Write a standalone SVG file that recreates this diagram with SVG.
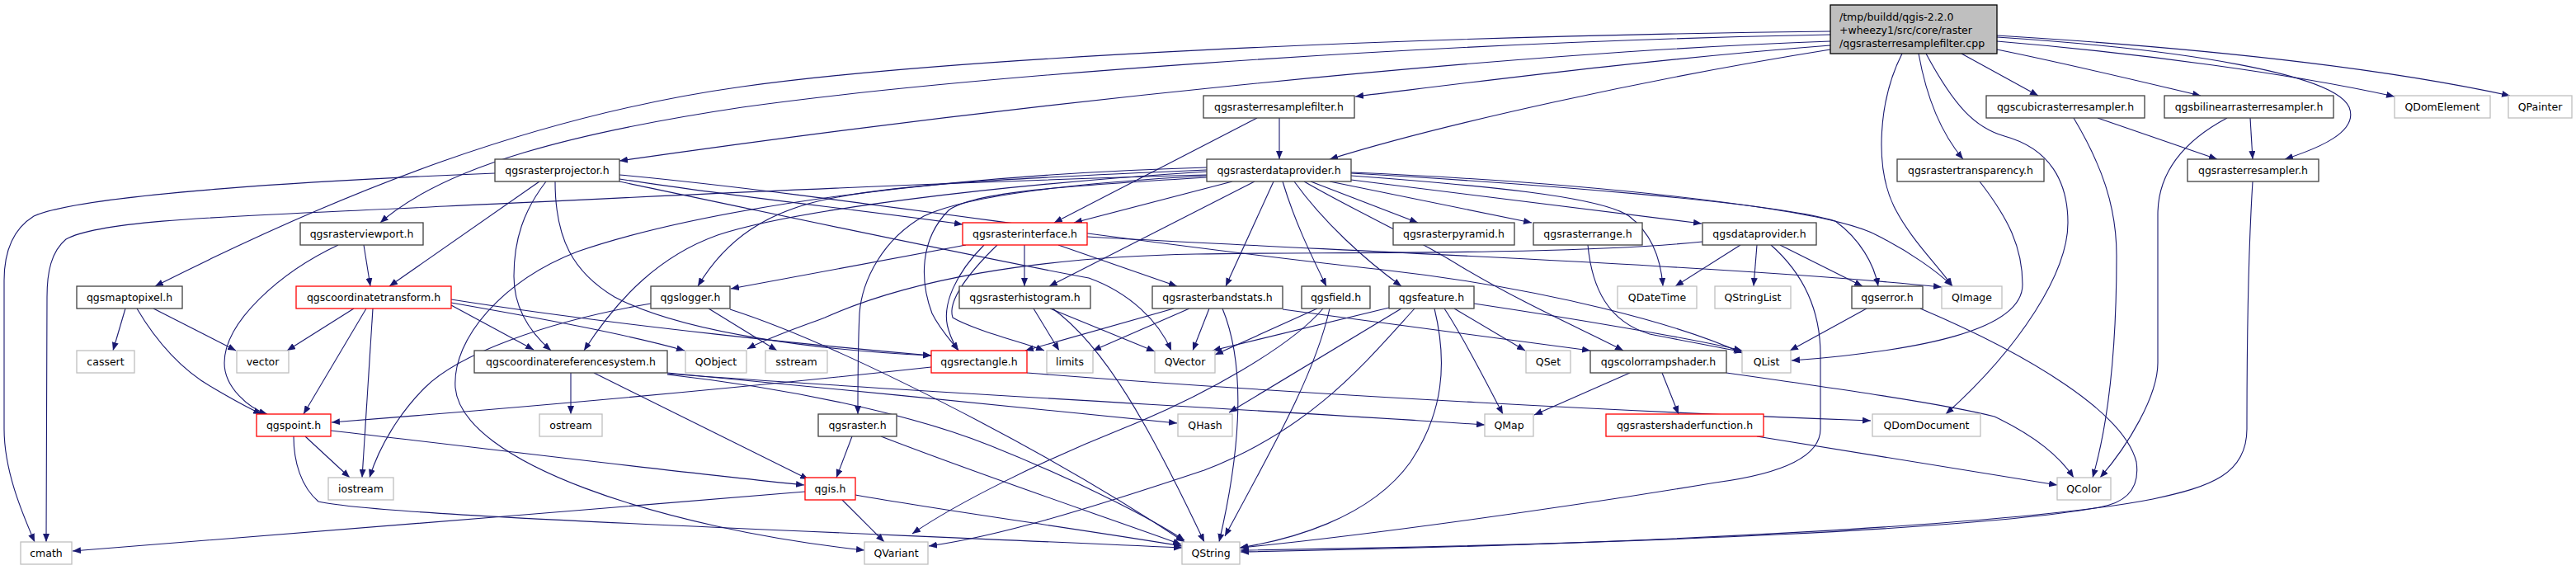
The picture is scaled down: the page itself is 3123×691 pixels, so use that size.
<svg xmlns="http://www.w3.org/2000/svg" width="3123" height="691" viewBox="0 0 3123 691">
<style>
.n rect{fill:#fff;stroke:#404040;stroke-width:1.3}
.r rect{fill:#fff;stroke:#ff0000;stroke-width:1.3}
.g rect{fill:#fff;stroke:#bfbfbf;stroke-width:1.3}
text{font-family:"DejaVu Sans","Liberation Sans",sans-serif;font-size:12.5px;fill:#000;text-anchor:middle}
#edges path{fill:none;stroke:#191970;stroke-width:1.1;marker-end:url(#a)}
</style>
<defs>
<marker id="a" viewBox="0 0 10 8" refX="10" refY="4" markerWidth="10" markerHeight="8" markerUnits="userSpaceOnUse" orient="auto"><path d="M0,0 L10,4 L0,8 z" fill="#191970"/></marker>
</defs>
<rect width="3123" height="691" fill="#fff"/>
<g id="edges">
<path d="M2219,38 C1700,44 1150,70 900,105 C650,140 420,230 188,347"/>
<path d="M2219,42 C1700,52 1150,95 900,130 C700,160 540,200 461,270"/>
<path d="M2219,50 C1800,65 1200,130 751,195"/>
<path d="M2219,55 C2000,72 1800,98 1643,117"/>
<path d="M2219,60 C2000,95 1750,150 1612,193"/>
<path d="M2421,45 C2650,60 2830,90 2848,130 C2860,160 2810,180 2770,193"/>
<path d="M2421,50 C2600,65 2780,90 2903,117"/>
<path d="M2421,43 C2700,60 2900,85 3043,116"/>
<path d="M2421,60 C2510,78 2600,100 2668,116"/>
<path d="M2378,65 L2471,116"/>
<path d="M2326,65 C2335,115 2352,160 2380,193"/>
<path d="M2306,65 C2278,120 2272,200 2296,250 C2316,290 2348,320 2367,347"/>
<path d="M2335,65 C2370,130 2395,155 2430,165 C2485,180 2507,220 2507,270 C2507,330 2450,420 2359,502"/>
<path d="M1551,143 L1551,193"/>
<path d="M1524,143 L1278,270"/>
<path d="M2543,143 L2688,193"/>
<path d="M2514,143 C2548,200 2566,250 2566,310 C2566,400 2560,500 2537,579"/>
<path d="M2728,143 L2731,193"/>
<path d="M2700,143 C2640,175 2616,215 2616,260 L2616,440 C2616,480 2580,540 2546,579"/>
<path d="M2731,220 C2726,300 2724,420 2724,520 C2724,575 2680,590 2610,605 C2460,635 2000,660 1504,669"/>
<path d="M2400,220 C2435,265 2452,300 2452,345 C2452,400 2330,425 2172,437"/>
<path d="M600,210 C400,218 100,235 41,262 C12,280 5,310 5,340 L5,520 C5,570 26,620 42,657"/>
<path d="M654,220 L472,347"/>
<path d="M662,220 C635,255 623,290 623,335 C623,375 645,405 668,425"/>
<path d="M673,220 C673,290 695,330 745,360 C830,405 1000,425 1129,431"/>
<path d="M751,217 C900,240 1050,255 1167,272"/>
<path d="M751,220 C950,262 1200,315 1320,337 C1370,355 1405,390 1420,425"/>
<path d="M751,212 C1000,235 1350,292 1676,327 C1880,350 2040,395 2112,428"/>
<path d="M441,297 L449,347"/>
<path d="M410,297 C340,330 272,390 272,440 C272,470 302,495 324,502"/>
<path d="M152,374 L137,425"/>
<path d="M186,374 L286,425"/>
<path d="M166,374 C190,415 222,450 258,470 C280,483 300,494 317,502"/>
<path d="M429,374 L348,425"/>
<path d="M444,374 L368,502"/>
<path d="M452,374 L439,579"/>
<path d="M547,370 L647,424"/>
<path d="M547,363 C750,395 1000,420 1129,431"/>
<path d="M547,367 C650,385 760,405 830,425"/>
<path d="M789,368 C660,390 555,430 515,470 C485,500 460,540 448,579"/>
<path d="M859,374 L942,425"/>
<path d="M885,375 C1010,415 1260,540 1436,657"/>
<path d="M1171,297 L886,350"/>
<path d="M1242,297 L1242,347"/>
<path d="M1283,297 L1427,347"/>
<path d="M1318,287 C1600,303 2100,322 2354,348"/>
<path d="M1193,297 C1160,330 1140,370 1150,400 C1153,410 1157,418 1162,425"/>
<path d="M1209,297 C1175,330 1148,365 1155,385 C1180,400 1240,415 1266,425"/>
<path d="M1463,212 C1100,222 800,238 540,250 C300,262 125,265 80,290 C62,305 57,330 57,360 L56,657"/>
<path d="M1463,206 C1250,215 1100,222 1010,240 C930,255 880,290 846,347"/>
<path d="M1463,208 C1200,225 960,255 870,285 C800,310 750,360 708,425"/>
<path d="M1463,203 C1150,212 860,250 700,305 C610,340 548,410 552,470 C560,560 800,640 1048,667"/>
<path d="M1463,215 C1300,225 1180,232 1150,255 C1115,290 1115,340 1130,380 C1140,400 1153,413 1162,425"/>
<path d="M1463,213 C1300,222 1170,238 1120,262 C1070,290 1045,340 1042,380 C1040,420 1040,470 1040,502"/>
<path d="M1494,220 L1302,270"/>
<path d="M1521,220 L1272,347"/>
<path d="M1544,220 L1486,347"/>
<path d="M1555,220 C1570,270 1590,310 1608,347"/>
<path d="M1569,220 C1605,270 1655,315 1699,347"/>
<path d="M1589,220 L1719,270"/>
<path d="M1612,220 L1857,270"/>
<path d="M1638,218 L2063,271"/>
<path d="M1638,213 C1800,225 1940,238 1975,262 C2005,285 2014,320 2016,347"/>
<path d="M1638,210 C1850,222 2150,245 2225,268 C2255,290 2272,320 2277,347"/>
<path d="M1638,209 C1900,220 2210,250 2275,285 C2315,305 2350,330 2367,347"/>
<path d="M1581,220 C1650,260 1720,290 1771,323 C1850,370 1920,400 1968,425"/>
<path d="M1684,373 L1470,425"/>
<path d="M1597,374 L1473,430"/>
<path d="M1604,374 C1565,420 1460,480 1360,520 C1260,560 1160,610 1106,647"/>
<path d="M1612,374 C1595,450 1550,530 1485,650"/>
<path d="M1699,374 L1490,500"/>
<path d="M1715,374 C1655,440 1590,520 1460,570 C1310,620 1210,650 1126,662"/>
<path d="M1739,374 C1755,440 1750,500 1710,560 C1660,630 1560,655 1503,664"/>
<path d="M1751,374 C1775,410 1800,460 1822,502"/>
<path d="M1763,374 L1849,425"/>
<path d="M1787,368 C1900,385 2050,410 2112,425"/>
<path d="M1555,375 C1700,395 1860,415 1928,425"/>
<path d="M1423,374 L1243,425"/>
<path d="M1442,374 L1325,425"/>
<path d="M1466,374 L1446,425"/>
<path d="M1482,374 C1505,430 1510,520 1478,657"/>
<path d="M1253,374 L1284,425"/>
<path d="M1273,374 L1400,426"/>
<path d="M1276,374 C1340,420 1395,520 1460,657"/>
<path d="M1976,452 L1860,503"/>
<path d="M2015,452 L2035,502"/>
<path d="M2093,452 C2220,470 2360,490 2418,505 C2460,525 2495,550 2514,579"/>
<path d="M2130,529 L2494,588"/>
<path d="M2263,374 L2170,425"/>
<path d="M2328,374 C2460,430 2575,500 2590,560 C2595,595 2575,610 2545,615 C2410,640 2000,660 1504,667"/>
<path d="M1925,297 C1930,350 1950,390 2000,405 C2050,415 2090,422 2113,427"/>
<path d="M2110,297 L2031,347"/>
<path d="M2130,297 L2126,347"/>
<path d="M2158,297 L2258,347"/>
<path d="M2147,297 C2190,335 2207,380 2207,430 L2207,520 C2207,555 2155,575 2080,585 C1900,615 1650,650 1503,664"/>
<path d="M2064,293 C1900,310 1600,305 1450,308 C1250,312 1100,340 1000,385 C960,400 930,410 906,423"/>
<path d="M692,452 L692,502"/>
<path d="M720,452 L980,581"/>
<path d="M809,452 C1000,470 1250,495 1427,513"/>
<path d="M809,453 C1100,475 1500,495 1800,515"/>
<path d="M809,454 C950,470 1100,500 1200,540 C1300,580 1390,625 1436,655"/>
<path d="M1129,445 C900,470 620,495 402,512"/>
<path d="M1245,452 C1600,480 2000,500 2268,510"/>
<path d="M370,529 L424,579"/>
<path d="M401,522 C600,545 800,570 975,588"/>
<path d="M356,529 C356,560 365,590 386,608 C460,625 900,640 1433,664"/>
<path d="M1033,529 L1014,579"/>
<path d="M1068,529 C1200,580 1350,630 1432,660"/>
<path d="M976,596 C700,620 300,650 88,668"/>
<path d="M1021,606 C1040,625 1055,640 1072,657"/>
<path d="M1037,600 C1150,620 1300,640 1433,662"/>
</g>
<g id="top"><rect x="2219" y="6" width="202" height="59" fill="#bfbfbf" stroke="#000" stroke-width="1.3"/><text x="2230" y="25" style="text-anchor:start">/tmp/buildd/qgis-2.2.0</text><text x="2230" y="41" style="text-anchor:start">+wheezy1/src/core/raster</text><text x="2230" y="57" style="text-anchor:start">/qgsrasterresamplefilter.cpp</text></g>
<g id="resamplefilter" class="n"><rect x="1459" y="116" width="183" height="27"/><text x="1550.5" y="134">qgsrasterresamplefilter.h</text></g>
<g id="cubic" class="n"><rect x="2408" y="116" width="192" height="27"/><text x="2504" y="134">qgscubicrasterresampler.h</text></g>
<g id="bilinear" class="n"><rect x="2624" y="116" width="205" height="27"/><text x="2726.5" y="134">qgsbilinearrasterresampler.h</text></g>
<g id="QDomElement" class="g"><rect x="2903" y="116" width="116" height="27"/><text x="2961" y="134">QDomElement</text></g>
<g id="QPainter" class="g"><rect x="3041" y="116" width="77" height="27"/><text x="3079.5" y="134">QPainter</text></g>
<g id="projector" class="n"><rect x="600" y="193" width="151" height="27"/><text x="675.5" y="211">qgsrasterprojector.h</text></g>
<g id="dataprovider" class="n"><rect x="1463" y="193" width="175" height="27"/><text x="1550.5" y="211">qgsrasterdataprovider.h</text></g>
<g id="transparency" class="n"><rect x="2300" y="193" width="178" height="27"/><text x="2389" y="211">qgsrastertransparency.h</text></g>
<g id="rasterresampler" class="n"><rect x="2652" y="193" width="159" height="27"/><text x="2731.5" y="211">qgsrasterresampler.h</text></g>
<g id="viewport" class="n"><rect x="364" y="270" width="149" height="27"/><text x="438.5" y="288">qgsrasterviewport.h</text></g>
<g id="rasterinterface" class="r"><rect x="1167" y="270" width="151" height="27"/><text x="1242.5" y="288">qgsrasterinterface.h</text></g>
<g id="pyramid" class="n"><rect x="1689" y="270" width="147" height="27"/><text x="1762.5" y="288">qgsrasterpyramid.h</text></g>
<g id="rasterrange" class="n"><rect x="1859" y="270" width="132" height="27"/><text x="1925" y="288">qgsrasterrange.h</text></g>
<g id="qgsdataprovider" class="n"><rect x="2064" y="270" width="138" height="27"/><text x="2133" y="288">qgsdataprovider.h</text></g>
<g id="maptopixel" class="n"><rect x="93" y="347" width="128" height="27"/><text x="157" y="365">qgsmaptopixel.h</text></g>
<g id="coordtransform" class="r"><rect x="359" y="347" width="188" height="27"/><text x="453" y="365">qgscoordinatetransform.h</text></g>
<g id="logger" class="n"><rect x="789" y="347" width="96" height="27"/><text x="837" y="365">qgslogger.h</text></g>
<g id="histogram" class="n"><rect x="1163" y="347" width="159" height="27"/><text x="1242.5" y="365">qgsrasterhistogram.h</text></g>
<g id="bandstats" class="n"><rect x="1397" y="347" width="158" height="27"/><text x="1476" y="365">qgsrasterbandstats.h</text></g>
<g id="field" class="n"><rect x="1578" y="347" width="83" height="27"/><text x="1619.5" y="365">qgsfield.h</text></g>
<g id="feature" class="n"><rect x="1684" y="347" width="103" height="27"/><text x="1735.5" y="365">qgsfeature.h</text></g>
<g id="QDateTime" class="g"><rect x="1961" y="347" width="96" height="27"/><text x="2009" y="365">QDateTime</text></g>
<g id="QStringList" class="g"><rect x="2079" y="347" width="92" height="27"/><text x="2125" y="365">QStringList</text></g>
<g id="qgserror" class="n"><rect x="2245" y="347" width="86" height="27"/><text x="2288" y="365">qgserror.h</text></g>
<g id="QImage" class="g"><rect x="2354" y="347" width="73" height="27"/><text x="2390.5" y="365">QImage</text></g>
<g id="cassert" class="g"><rect x="93" y="425" width="70" height="27"/><text x="128" y="443">cassert</text></g>
<g id="vector" class="g"><rect x="287" y="425" width="63" height="27"/><text x="318.5" y="443">vector</text></g>
<g id="crs" class="n"><rect x="575" y="425" width="234" height="27"/><text x="692" y="443">qgscoordinatereferencesystem.h</text></g>
<g id="QObject" class="g"><rect x="831" y="425" width="74" height="27"/><text x="868" y="443">QObject</text></g>
<g id="sstream" class="g"><rect x="928" y="425" width="75" height="27"/><text x="965.5" y="443">sstream</text></g>
<g id="rectangle" class="r"><rect x="1129" y="425" width="116" height="27"/><text x="1187" y="443">qgsrectangle.h</text></g>
<g id="limits" class="g"><rect x="1269" y="425" width="56" height="27"/><text x="1297" y="443">limits</text></g>
<g id="QVector" class="g"><rect x="1400" y="425" width="73" height="27"/><text x="1436.5" y="443">QVector</text></g>
<g id="QSet" class="g"><rect x="1850" y="425" width="54" height="27"/><text x="1877" y="443">QSet</text></g>
<g id="colorrampshader" class="n"><rect x="1928" y="425" width="165" height="27"/><text x="2010.5" y="443">qgscolorrampshader.h</text></g>
<g id="QList" class="g"><rect x="2112" y="425" width="59" height="27"/><text x="2141.5" y="443">QList</text></g>
<g id="point" class="r"><rect x="311" y="502" width="90" height="27"/><text x="356" y="520">qgspoint.h</text></g>
<g id="ostream" class="g"><rect x="654" y="502" width="76" height="27"/><text x="692" y="520">ostream</text></g>
<g id="raster" class="n"><rect x="992" y="502" width="95" height="27"/><text x="1039.5" y="520">qgsraster.h</text></g>
<g id="QHash" class="g"><rect x="1428" y="502" width="66" height="27"/><text x="1461" y="520">QHash</text></g>
<g id="QMap" class="g"><rect x="1800" y="502" width="59" height="27"/><text x="1829.5" y="520">QMap</text></g>
<g id="shaderfunction" class="r"><rect x="1947" y="502" width="191" height="27"/><text x="2042.5" y="520">qgsrastershaderfunction.h</text></g>
<g id="QDomDocument" class="g"><rect x="2270" y="502" width="131" height="27"/><text x="2335.5" y="520">QDomDocument</text></g>
<g id="iostream" class="g"><rect x="398" y="579" width="79" height="27"/><text x="437.5" y="597">iostream</text></g>
<g id="qgis" class="r"><rect x="976" y="579" width="61" height="27"/><text x="1006.5" y="597">qgis.h</text></g>
<g id="QColor" class="g"><rect x="2494" y="579" width="65" height="27"/><text x="2526.5" y="597">QColor</text></g>
<g id="cmath" class="g"><rect x="25" y="657" width="62" height="27"/><text x="56" y="675">cmath</text></g>
<g id="QVariant" class="g"><rect x="1048" y="657" width="77" height="27"/><text x="1086.5" y="675">QVariant</text></g>
<g id="QString" class="g"><rect x="1433" y="657" width="70" height="27"/><text x="1468" y="675">QString</text></g>
</svg>
